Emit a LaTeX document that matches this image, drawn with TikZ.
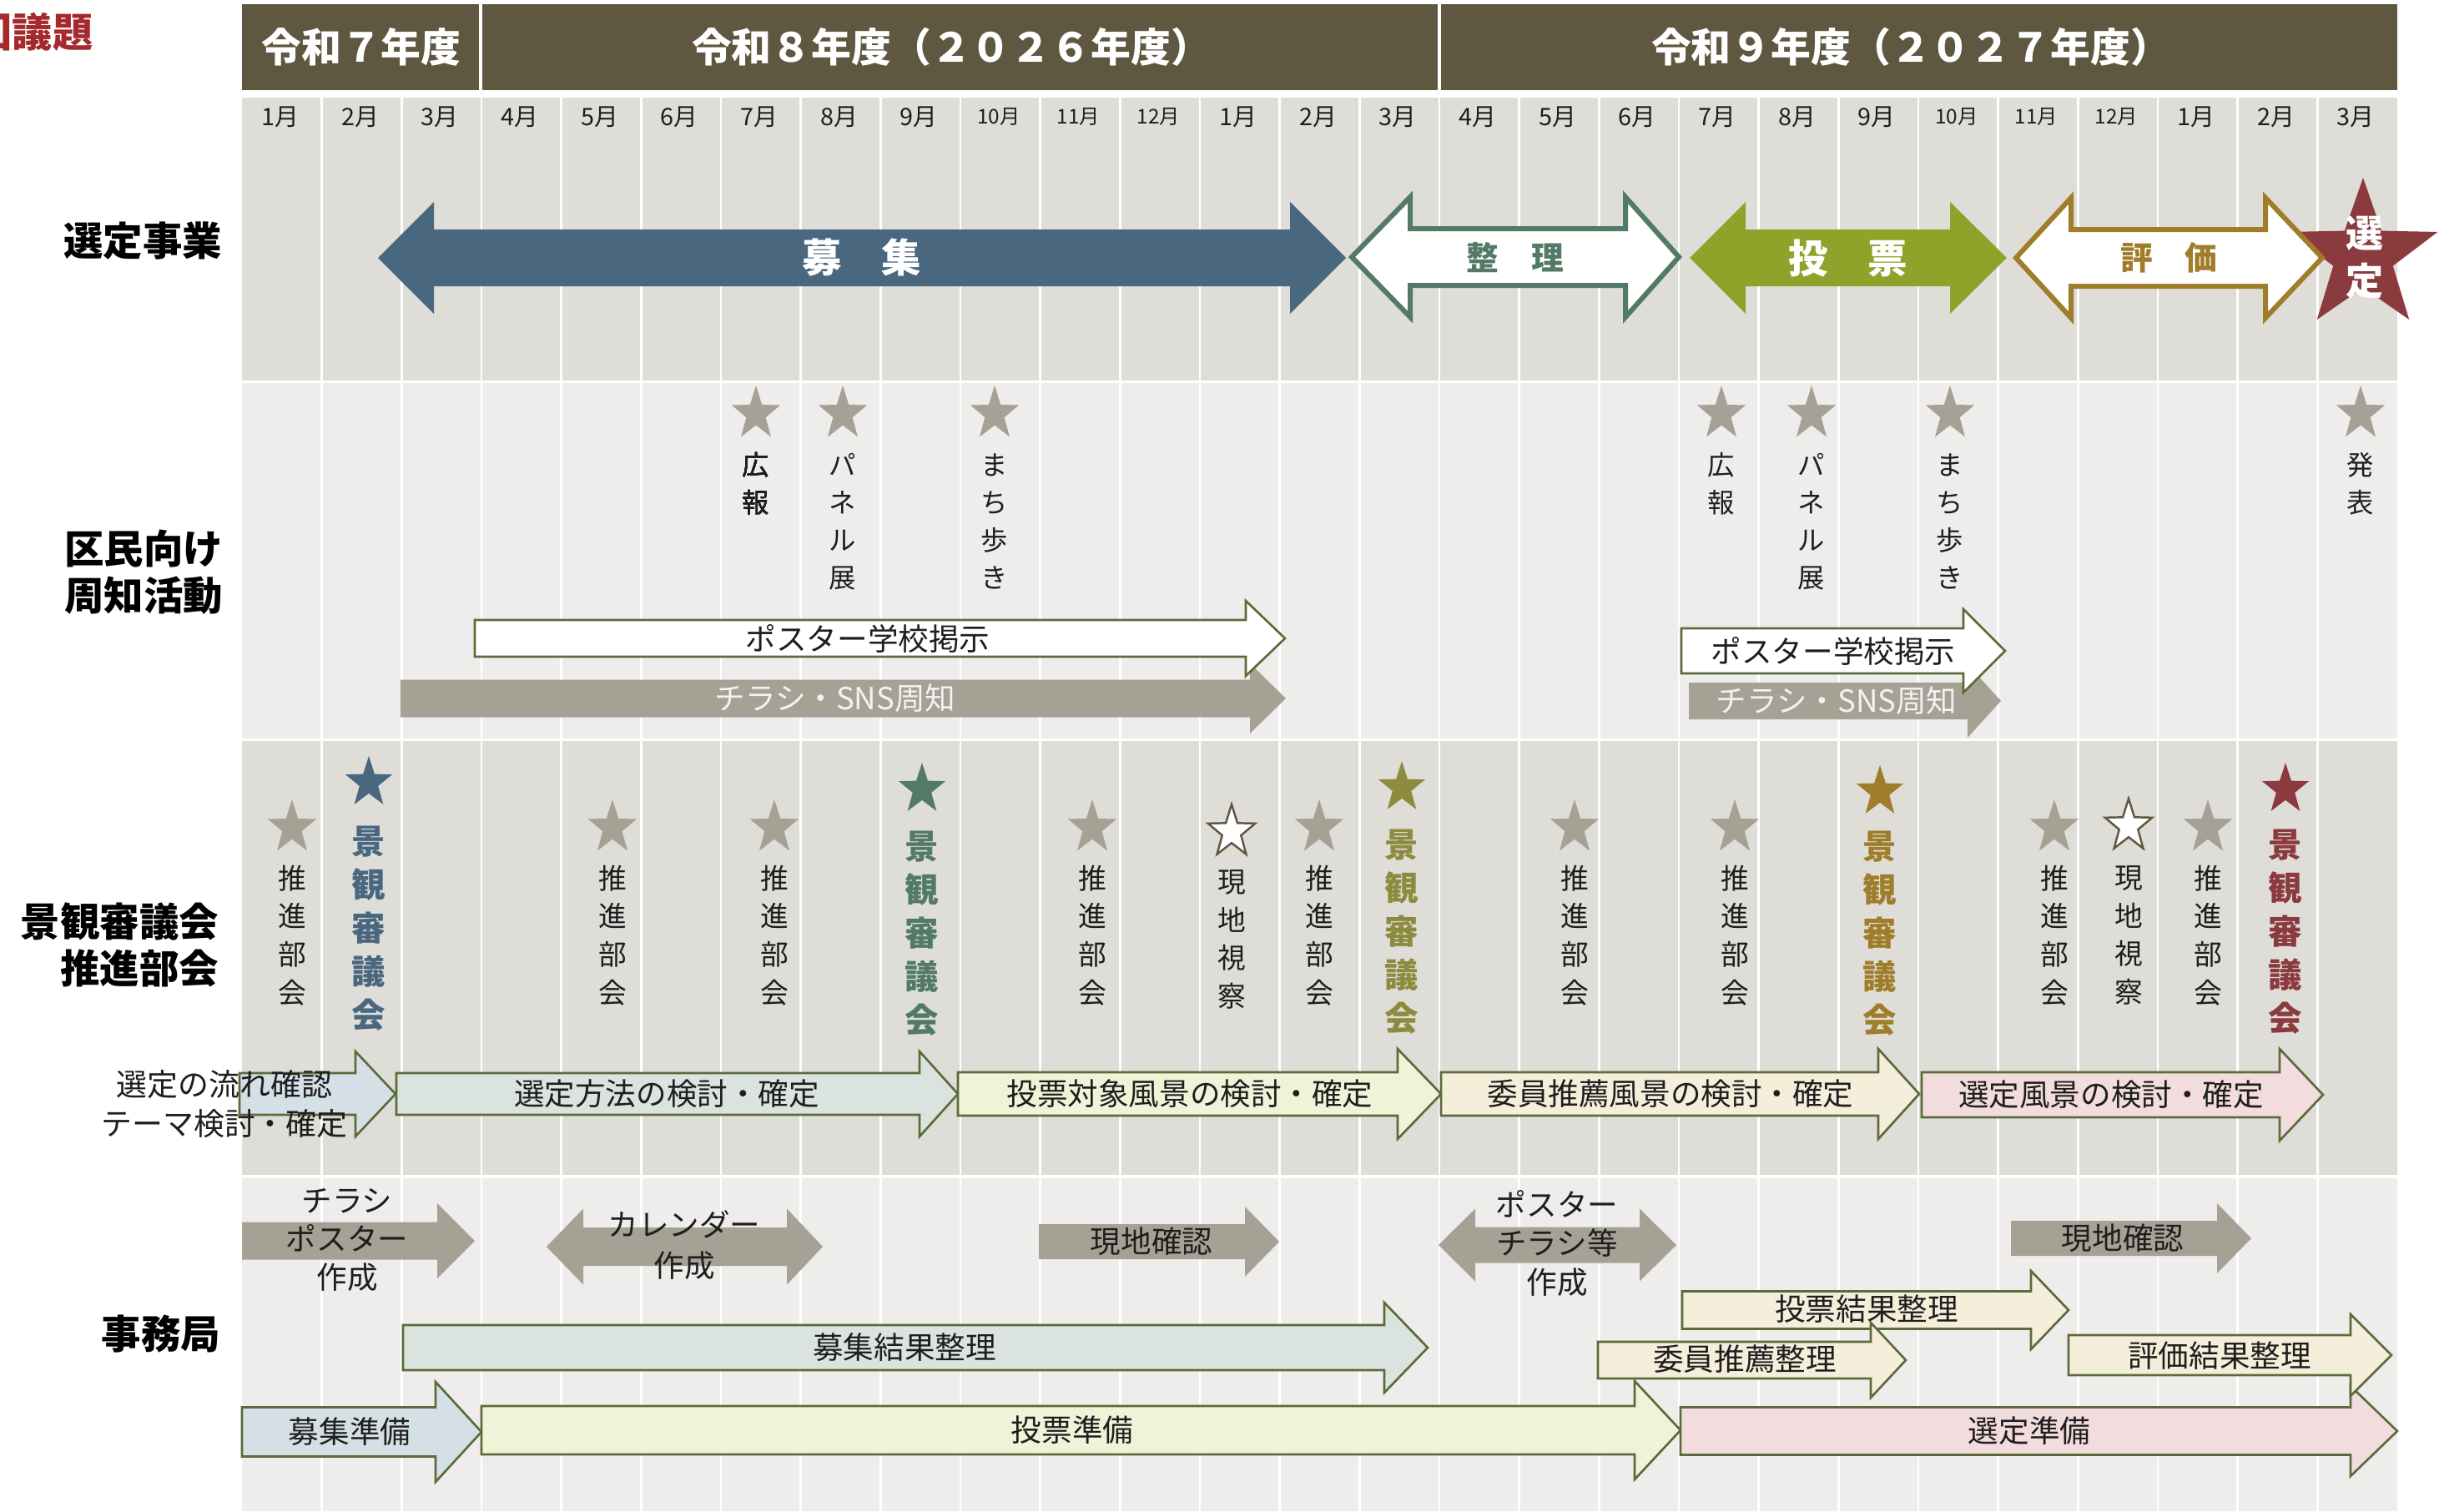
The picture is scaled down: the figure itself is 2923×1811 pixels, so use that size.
\documentclass[tikz,border=0pt]{standalone}
\usepackage{fontspec}
\setmainfont{Noto Sans CJK JP}
\definecolor{hdr}{RGB}{95,87,63}
\definecolor{bgd}{RGB}{222,221,216}
\definecolor{bgl}{RGB}{238,237,235}
\definecolor{cblue}{RGB}{74,103,128}
\definecolor{cgreen}{RGB}{82,122,103}
\definecolor{colive}{RGB}{143,163,42}
\definecolor{cgold}{RGB}{160,125,42}
\definecolor{cred}{RGB}{139,58,62}
\definecolor{cgray}{RGB}{165,161,149}
\definecolor{cstarol}{RGB}{141,139,62}
\definecolor{aline}{RGB}{91,107,58}
\definecolor{lblue}{RGB}{213,223,230}
\definecolor{lgreen}{RGB}{218,227,222}
\definecolor{lyel}{RGB}{239,243,216}
\definecolor{lcream}{RGB}{245,238,219}
\definecolor{lpink}{RGB}{242,220,221}
\definecolor{ttl}{RGB}{164,42,46}
\definecolor{txt}{RGB}{30,30,30}
\definecolor{wsline}{RGB}{95,87,63}
% star: x, y, R, x-factor, style
\newcommand\pstar[5]{\path[#5] ({#1},{#2-#3}) \foreach \k in {1,...,9}{ -- ({#1+#4*#3*(0.7+0.3*cos(180*\k))*sin(36*\k)},{#2-#3*(0.7+0.3*cos(180*\k))*cos(36*\k)}) } -- cycle;}
% right arrow: x1, x2 (head back), x3 (tip), yc, shaft half, head half, style
\newcommand\rarr[7]{\path[#7] (#1,{#4-#5}) -- (#2,{#4-#5}) -- (#2,{#4-#6}) -- (#3,#4) -- (#2,{#4+#6}) -- (#2,{#4+#5}) -- (#1,{#4+#5}) -- cycle;}
% double arrow: ltip, lback, rback, rtip, yc, shaft half, head half, style
\newcommand\darr[8]{\path[#8] (#1,#5) -- (#2,{#5-#7}) -- (#2,{#5-#6}) -- (#3,{#5-#6}) -- (#3,{#5-#7}) -- (#4,#5) -- (#3,{#5+#7}) -- (#3,{#5+#6}) -- (#2,{#5+#6}) -- (#2,{#5+#7}) -- cycle;}
\begin{document}
\begin{tikzpicture}[x=0.01cm,y=-0.01cm,line join=miter,
  lbl/.style={font=\fontsize{13.5}{16}\selectfont\bfseries,align=right,inner sep=0pt,text=black},
  hdrt/.style={font=\fontsize{13.6}{16}\selectfont\bfseries,text=white,inner sep=0pt},
  mon/.style={font=\fontsize{8.2}{9}\selectfont,text=txt,inner sep=0pt},
  vt/.style={font=\fontsize{9.2}{12.8}\selectfont,align=center,inner sep=0pt,text=txt},
  vtm/.style={font=\fontsize{9.6}{13}\selectfont,align=center,inner sep=0pt,text=txt},
  vtb/.style={font=\fontsize{11.5}{14.8}\selectfont\bfseries,align=center,inner sep=0pt},
  atx/.style={font=\fontsize{10.4}{13.2}\selectfont,align=center,inner sep=0pt,text=txt},
  bigt/.style={font=\fontsize{13.5}{16}\selectfont\bfseries,inner sep=0pt},
  midt/.style={font=\fontsize{11}{14}\selectfont\bfseries,inner sep=0pt},
  proc/.style={draw=aline,line width=0.75pt},
  gline/.style={white,line width=0.7pt}]
\useasboundingbox (0,0) rectangle (2923,1811);
\fill[white] (0,0) rectangle (2923,1811);
% title (cut off at the left edge, as in the reference)
\node[anchor=east,font=\fontsize{13.7}{16}\selectfont\bfseries,text=ttl,inner sep=0pt] (title) at (112,38) {回議題};
% header
\fill[hdr] (290,5) rectangle (2873,108);
\draw[white,line width=0.9pt] (576,5) -- (576,108) (1725,5) -- (1725,108);
\node[hdrt] (h7) at (433,56) {令和７年度};
\node[hdrt] (h8) at (1140,56) {令和８年度（２０２６年度）};
\node[hdrt] (h9) at (2290,56) {令和９年度（２０２７年度）};
% section backgrounds
\fill[bgd] (290,117) rectangle (2873,456);
\fill[bgl] (290,459) rectangle (2873,885);
\fill[bgd] (290,888) rectangle (2873,1408);
\fill[bgl] (290,1412) rectangle (2873,1811);
\foreach \i in {1,...,26} \draw[gline] ({290+\i*95.667},117) -- ({290+\i*95.667},1811);
% months
\foreach \m [count=\i from 0] in {1,2,3,4,5,6,7,8,9,10,11,12,1,2,3,4,5,6,7,8,9,10,11,12,1,2,3}
  \node[mon] (m\i) at ({288+(\i+0.5)*95.667},140) {\ifnum\m>9 \fontsize{6.9}{8}\selectfont\fi\m 月};
% row labels
\node[lbl] (l1) at (171,289) {選定事業};
\node[lbl] (l2) at (172,686) {区民向け\\周知活動};
\node[lbl,anchor=east] (l3) at (263,1132) {景観審議会\\推進部会};
\node[lbl] (l4) at (193,1598) {事務局};
% ===== section 1 =====
\darr{453}{520}{1546}{1613}{309}{34}{67}{fill=cblue}
\node[bigt,text=white] (s1a) at (1033,309) {募　集};
\darr{1620}{1690}{1948}{2012}{308}{34}{72}{fill=white,draw=cgreen,line width=1.7pt}
\node[midt,text=cgreen] (s1b) at (1816,309) {整　理};
\darr{2025}{2092}{2337}{2405}{309}{34}{67}{fill=colive}
\node[bigt,text=white] (s1c) at (2215,309) {投　票};
\pstar{2832}{307}{94}{1}{fill=cred}
\darr{2416}{2482}{2715}{2783}{309}{34}{72}{fill=white,draw=cgold,line width=1.7pt}
\node[midt,text=cgold] (s1d) at (2599,309) {評　価};
\node[font=\fontsize{12.8}{16.2}\selectfont\bfseries,text=white,align=center,inner sep=0pt] (s1e) at (2834,309) {選\\定};
% ===== section 2 =====
\foreach \x in {906,1010,1192,2063,2171,2337,2829} \pstar{\x}{496}{34}{0.9}{fill=cgray}
\node[vt] (k1) at (906,580) {広\\報};
\node[vt] (k2) at (1010,625) {パ\\ネ\\ル\\展};
\node[vt] (k3) at (1192,625) {ま\\ち\\歩\\き};
\node[vt] (k4) at (2063,580) {広\\報};
\node[vt] (k5) at (2171,625) {パ\\ネ\\ル\\展};
\node[vt] (k6) at (2337,625) {ま\\ち\\歩\\き};
\node[vt] (k7) at (2829,580) {発\\表};
\rarr{480}{1498}{1541}{837}{22.5}{42}{fill=cgray}
\node[atx,text=white!95!black] (p1) at (1001,837) {チラシ・SNS周知};
\rarr{569}{1493}{1540}{765}{22}{45}{fill=white,draw=aline,line width=0.75pt}
\node[atx] (p2) at (1040,765) {ポスター学校掲示};
\rarr{2024}{2358}{2398}{840}{22}{44}{fill=cgray}
\node[atx,text=white!95!black] (p3) at (2201,840) {チラシ・SNS周知};
\rarr{2015}{2353}{2403}{780}{27}{50}{fill=white,draw=aline,line width=0.75pt}
\node[atx] (p4) at (2197,780) {ポスター学校掲示};
% ===== section 3 =====
\foreach \x [count=\i] in {350,734,928,1309,1581,1887,2079,2462,2646}{
  \pstar{\x}{992}{34}{0.9}{fill=cgray}
  \node[vtm] (sb\i) at (\x,1121) {推\\進\\部\\会};
}
\pstar{1476}{997}{33}{0.9}{fill=white,draw=wsline,line width=0.7pt}
\node[vtm] (gs1) at (1476,1126) {現\\地\\視\\察};
\pstar{2551}{990}{33}{0.9}{fill=white,draw=wsline,line width=0.7pt}
\node[vtm] (gs2) at (2551,1121) {現\\地\\視\\察};
\foreach \x/\y/\t/\c [count=\i] in {442/938/1113/cblue,1105/946/1119/cgreen,1680/944/1117/cstarol,2253/949/1119/cgold,2739/946/1117/cred}{
  \pstar{\x}{\y}{32}{0.92}{fill=\c}
  \node[vtb,text=\c] (ks\i) at (\x,\t) {景\\観\\審\\議\\会};
}
\rarr{287}{426}{474}{1311}{25}{51}{proc,fill=lblue}
\rarr{475}{1102}{1148}{1311}{25}{51}{proc,fill=lgreen}
\rarr{1148}{1675}{1727}{1311}{26}{54}{proc,fill=lyel}
\rarr{1727}{2251}{2300}{1311}{26}{54}{proc,fill=lcream}
\rarr{2303}{2732}{2784}{1312}{27}{55}{proc,fill=lpink}
\node[atx,font=\fontsize{10.5}{13.4}\selectfont] (q0) at (269,1323) {選定の流れ確認\\テーマ検討・確定};
\node[atx] (q1) at (799,1311) {選定方法の検討・確定};
\node[atx] (q2) at (1426,1311) {投票対象風景の検討・確定};
\node[atx] (q3) at (2002,1311) {委員推薦風景の検討・確定};
\node[atx] (q4) at (2530,1312) {選定風景の検討・確定};
% ===== section 4 =====
\rarr{290}{524}{569}{1487}{22.5}{45}{fill=cgray}
\node[atx] (j1) at (416,1486) {チラシ\\ポスター\\作成};
\darr{655}{699}{943}{986}{1494}{23}{45.5}{fill=cgray}
\node[atx,font=\fontsize{10.4}{14}\selectfont] (j2) at (820,1492) {カレンダー\\作成};
\rarr{1245}{1492}{1533}{1488}{21}{42}{fill=cgray}
\node[atx] (j3) at (1380,1488) {現地確認};
\darr{1724}{1768}{1965}{2009}{1492}{21.5}{43.5}{fill=cgray}
\node[atx] (j4) at (1866,1490) {ポスター\\チラシ等\\作成};
\rarr{2410}{2657}{2698}{1484}{21}{42}{fill=cgray}
\node[atx] (j5) at (2544,1484) {現地確認};
\rarr{483}{1659}{1711}{1615}{27}{54}{proc,fill=lgreen}
\node[atx] (j6) at (1084,1615) {募集結果整理};
\rarr{2016}{2434}{2479}{1570}{22.5}{47}{proc,fill=lcream}
\node[atx] (j7) at (2237,1569) {投票結果整理};
\rarr{1915}{2242}{2284}{1630}{22}{45}{proc,fill=lcream}
\node[atx] (j8) at (2091,1629) {委員推薦整理};
\rarr{290}{522}{577}{1716}{29.5}{60}{proc,fill=lblue}
\node[atx] (j9) at (419,1716) {募集準備};
\rarr{577}{1959}{2014}{1714}{29}{59}{proc,fill=lyel}
\node[atx] (j10) at (1285,1714) {投票準備};
\rarr{2014}{2817}{2873}{1715}{28.5}{54}{proc,fill=lpink}
\node[atx] (j11) at (2432,1715) {選定準備};
\rarr{2479}{2817}{2866}{1624}{24}{49}{proc,fill=lcream}
\node[atx] (j12) at (2660,1625) {評価結果整理};
\end{tikzpicture}
\end{document}
